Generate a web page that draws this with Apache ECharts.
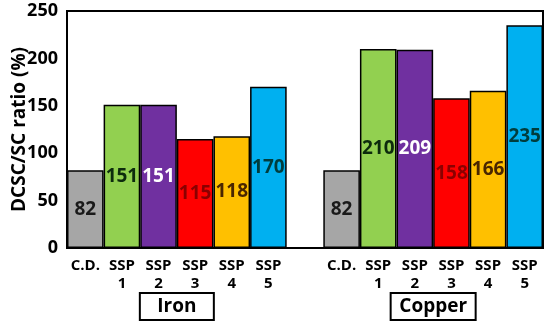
<!DOCTYPE html>
<html>
<head>
<meta charset="utf-8">
<script src="https://cdn.jsdelivr.net/npm/echarts@6/dist/echarts.min.js"></script>
<style>html,body{margin:0;padding:0;background:#fff}#c{width:550px;height:324px}</style>
</head>
<body>
<div id="c"></div>
<script>
var categories = ['C.D.', 'SSP\n1', 'SSP\n2', 'SSP\n3', 'SSP\n4', 'SSP\n5', '', 'C.D.', 'SSP\n1', 'SSP\n2', 'SSP\n3', 'SSP\n4', 'SSP\n5'];
var values = [82, 151, 151, 115, 118, 170, null, 82, 210, 209, 158, 166, 235];
var barColors = ['#a6a6a6', '#92d050', '#7030a0', '#ff0000', '#ffc000', '#00b0f0', '#ffffff', '#a6a6a6', '#92d050', '#7030a0', '#ff0000', '#ffc000', '#00b0f0'];
var labelColors = ['#1a1a1a', '#0d2b0d', '#ffffff', '#8b0000', '#4a2600', '#003d3d', '#000', '#1a1a1a', '#0d2b0d', '#ffffff', '#8b0000', '#4a2600', '#003d3d'];
var yTicks = [0, 50, 100, 150, 200, 250];
var groupNames = ['Iron', 'Copper'];

var FONT = 'Open Sans';
var chart = echarts.init(document.getElementById('c'));
chart.setOption({
  animation: false,
  grid: {left: 67, right: 7, top: 11, bottom: 76, containLabel: false, outerBoundsMode: 'none', show: true, borderColor: '#000', borderWidth: 2, backgroundColor: 'transparent'},
  xAxis: [{
    type: 'category',
    data: categories,
    axisLine: {lineStyle: {color: '#000', width: 2}},
    axisTick: {show: false},
    axisLabel: {interval: 0, color: '#000', fontFamily: FONT, fontWeight: 'bold', fontSize: 15, lineHeight: 18, margin: 9}
  }, {
    type: 'value',
    position: 'bottom',
    min: 0, max: 13, interval: 1,
    axisLine: {show: false},
    axisTick: {show: false},
    splitLine: {show: false},
    axisLabel: {
      margin: 46,
      formatter: function (v) {
        if (v === 3) return '{a|' + groupNames[0] + '}';
        if (v === 10) return '{b|' + groupNames[1] + '}';
        return '';
      },
      rich: {
        a: {width: 72, height: 25, align: 'center', borderColor: '#000', borderWidth: 2, backgroundColor: '#fff', fontFamily: FONT, fontWeight: 'bold', fontSize: 19, color: '#000'},
        b: {width: 83, height: 25, align: 'center', borderColor: '#000', borderWidth: 2, backgroundColor: '#fff', fontFamily: FONT, fontWeight: 'bold', fontSize: 19, color: '#000'}
      }
    }
  }],
  yAxis: {
    type: 'value',
    min: yTicks[0], max: yTicks[yTicks.length - 1], interval: 50,
    name: 'DCSC/SC ratio (%)',
    nameLocation: 'middle',
    nameGap: 38,
    nameMoveOverlap: false,
    nameTextStyle: {color: '#000', fontFamily: FONT, fontWeight: 'bold', fontSize: 19},
    axisLine: {show: true, lineStyle: {color: '#000', width: 2}},
    axisTick: {show: false},
    splitLine: {show: false},
    axisLabel: {color: '#000', fontFamily: FONT, fontWeight: 'bold', fontSize: 18, margin: 9}
  },
  series: [{
    type: 'bar',
    barCategoryGap: '0%',
    data: values.map(function (v, i) {
      return {
        value: v,
        itemStyle: {color: barColors[i], borderColor: '#000', borderWidth: 1.5},
        label: {color: labelColors[i]}
      };
    }),
    label: {show: true, position: 'inside', fontFamily: FONT, fontWeight: 'bold', fontSize: 19}
  }]
});
</script>
</body>
</html>
